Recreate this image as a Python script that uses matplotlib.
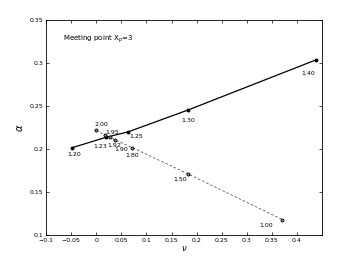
import matplotlib
matplotlib.use("Agg")
import matplotlib.pyplot as plt

# solid branch
solid_nu = [-0.048, 0.0195, 0.064, 0.183, 0.438]
solid_alpha = [0.2015, 0.2136, 0.220, 0.2453, 0.3035]
solid_lbl = ["1.20", "1.23", "1.25", "1.30", "1.40"]
solid_off = [(2, -7), (-6, -9), (8, -5), (0, -11), (-8, -14)]

# dashed branch
dash_nu = [0.0, 0.018, 0.028, 0.037, 0.072, 0.182, 0.371]
dash_alpha = [0.2217, 0.216, 0.214, 0.2105, 0.2015, 0.1713, 0.118]
dash_lbl = ["2.00", "1.95", "1.92", "1.90", "1.80", "1.50", "1.00"]
dash_off = [(5, 6), (7, 3), (4, -9), (6, -10), (0, -8), (-7, -6), (-16, -6)]

fig = plt.figure(figsize=(3.55, 2.65), dpi=100)
ax = fig.add_axes([0.130, 0.113, 0.777, 0.812])

ax.plot(solid_nu, solid_alpha, "k-", lw=0.9, marker="o", ms=1.8, mfc="k")
ax.plot(dash_nu, dash_alpha, ls="--", color="#333333", lw=0.5, dashes=(3.5, 3),
        marker="o", ms=2.2, mfc="#888888", mec="k", mew=0.6)

for x, y, s, o in zip(solid_nu, solid_alpha, solid_lbl, solid_off):
    ax.annotate(s, (x, y), xytext=o, textcoords="offset pixels",
                ha="center", va="center", fontsize=4.5)
for x, y, s, o in zip(dash_nu, dash_alpha, dash_lbl, dash_off):
    ax.annotate(s, (x, y), xytext=o, textcoords="offset pixels",
                ha="center", va="center", fontsize=4.5)

ax.text(0.06, 0.91, r"Meeting point X$_p$=3", transform=ax.transAxes,
        fontsize=5, ha="left", va="center")

ax.set_xlim(-0.1, 0.45)
ax.set_ylim(0.1, 0.35)
ax.set_xticks([-0.1, -0.05, 0, 0.05, 0.1, 0.15, 0.2, 0.25, 0.3, 0.35, 0.4])
ax.set_xticklabels(["\u22120.1", "\u22120.05", "0", "0.05", "0.1", "0.15", "0.2",
                    "0.25", "0.3", "0.35", "0.4"])
ax.set_yticks([0.1, 0.15, 0.2, 0.25, 0.3, 0.35])
ax.set_yticklabels(["0.1", "0.15", "0.2", "0.25", "0.3", "0.35"])
ax.tick_params(direction="in", top=True, right=True, labelsize=4.5,
               length=2.5, width=0.5, pad=2)
for sp in ax.spines.values():
    sp.set_linewidth(0.6)

ax.set_xlabel(r"$\nu$", fontsize=6, labelpad=1)
ax.set_ylabel(r"$\alpha$", fontsize=7, labelpad=3)

fig.savefig("out.png", dpi=100)
